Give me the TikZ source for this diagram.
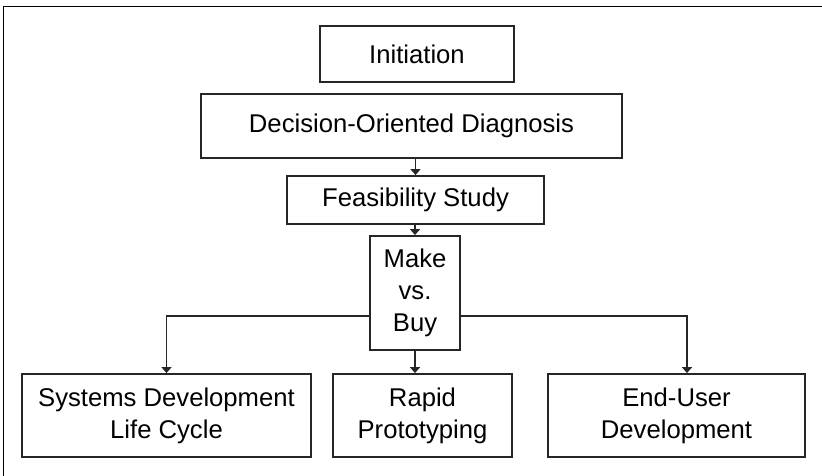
\documentclass[tikz,border=0pt]{standalone}
\usepackage{fontspec}
\setmainfont{Liberation Sans}
\usepackage{tikz}
\usetikzlibrary{positioning}
\usetikzlibrary{arrows.meta}

\tikzset{
  stagebox/.style={draw=black!85, line width=1.05pt, rectangle, inner sep=0pt, align=center,
    font=\fontsize{14.6}{18.1}\selectfont},
  flowarrow/.style={black!85, line width=1.05pt, -{Triangle[width=0.2cm, length=0.12cm]}}
}

\begin{document}
\begin{tikzpicture}[x=0.02cm, y=-0.02cm]

\useasboundingbox (0,0) rectangle (822,476);

% frame (top and left only)
\draw[black, line width=1.1pt] (3.5,476)--(3.5,6.5)--(822,6.5);

% stages
\node[stagebox, minimum width=3.88cm, minimum height=1.12cm] (init) at (417,54) {Initiation};
\node[stagebox, minimum width=8.42cm, minimum height=1.28cm] (diag) at (411.5,126) {Decision-Oriented Diagnosis};
\node[stagebox, minimum width=5.14cm, minimum height=0.96cm] (feas) at (415.5,200) {Feasibility Study};
\node[stagebox, minimum width=1.8cm, minimum height=2.28cm] (make) at (415,293) {Make\\vs.\\Buy};

\node[stagebox, minimum width=5.78cm, minimum height=1.66cm] (sdlc) at (166.5,415.5) {Systems Development\\Life Cycle};
\node[stagebox, minimum width=3.58cm, minimum height=1.66cm] (proto) at (422.5,415.5) {Rapid\\Prototyping};
\node[stagebox, minimum width=5.14cm, minimum height=1.66cm] (enduser) at (676.5,415.5) {End-User\\Development};

% arrows
\draw[flowarrow] (feas.north |- diag.south) -- (feas.north);
\draw[flowarrow] (make.north |- feas.south) -- (make.north);
\draw[flowarrow] (make.south) -- (make.south |- proto.north);
\draw[flowarrow] ([yshift=-0.46cm]make.west) -| (sdlc.north);
\draw[flowarrow] ([yshift=-0.46cm]make.east) -| ([xshift=0.21cm]enduser.north);

\end{tikzpicture}
\end{document}
